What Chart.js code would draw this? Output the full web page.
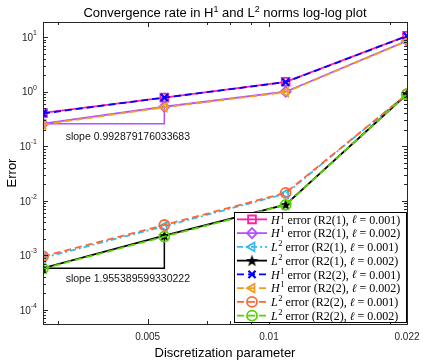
<!DOCTYPE html>
<html>
<head>
<meta charset="utf-8">
<script src="https://cdn.jsdelivr.net/npm/chart.js@4.4.1/dist/chart.umd.min.js"></script>
<style>
  html, body { margin: 0; padding: 0; background: #fff; }
  #wrap { width: 423px; height: 360px; }
</style>
</head>
<body>
<div id="wrap"><canvas id="errChart" width="423" height="360"></canvas></div>
<script>
// discretization parameter (h) for the four refinements
const hValues = [0.00275, 0.0055, 0.011, 0.022];

// errors
const h1R21L001 = [0.41, 0.78, 1.52, 10.6];
const h1R21L002 = [0.26, 0.53, 1.0, 8.6];
const l2R21L001 = [0.00090, 0.0034, 0.0135, 0.90];
const l2R21L002 = [0.00058, 0.0023, 0.0085, 0.90];
const h1R22L001 = [0.40, 0.78, 1.50, 10.5];
const h1R22L002 = [0.25, 0.52, 0.98, 8.5];
const l2R22L001 = [0.00096, 0.0036, 0.0140, 0.90];
const l2R22L002 = [0.00057, 0.0022, 0.0084, 0.90];

// slope triangles (corner points) and their labels
const slopeH1X = [0.00275, 0.0055, 0.0055];
const slopeH1Y = [0.26, 0.26, 0.53];
const slopeL2X = [0.00275, 0.0055, 0.0055];
const slopeL2Y = [0.00058, 0.00058, 0.0023];
const slopeH1Text = 'slope 0.992879176033683';
const slopeL2Text = 'slope 1.955389599330222';
const slopeH1Anchor = [0.00313, 0.146];
const slopeL2Anchor = [0.00313, 0.00036];

// axis ticks
const xTickValues = [0.005, 0.01, 0.022];
const xTickLabels = ['0.005', '0.01', '0.022'];
const xMinorTicks = [0.003, 0.007, 0.008, 0.009, 0.02];
const yTickValues = [1e-4, 1e-3, 1e-2, 1e-1, 1, 10];
const yTickExponents = ['-4', '-3', '-2', '-1', '0', '1'];

// legend text parts: [norm letter, power, rest, ell value]
const legendParts = [
  ['H', '1', ' error (R2(1), ', ' = 0.001)'],
  ['H', '1', ' error (R2(1), ', ' = 0.002)'],
  ['L', '2', ' error (R2(1), ', ' = 0.001)'],
  ['L', '2', ' error (R2(1), ', ' = 0.002)'],
  ['H', '1', ' error (R2(2), ', ' = 0.001)'],
  ['H', '1', ' error (R2(2), ', ' = 0.002)'],
  ['L', '2', ' error (R2(2), ', ' = 0.001)'],
  ['L', '2', ' error (R2(2), ', ' = 0.002)']
];

function pts(xs, ys) {
  return xs.map((x, i) => ({ x: x, y: ys[i] }));
}

// filled pentagram marker
function makeStar(size, color) {
  const c = document.createElement('canvas');
  c.width = size; c.height = size;
  const g = c.getContext('2d');
  const cx = size / 2, cy = size / 2 + 0.5, ro = size / 2, ri = ro * 0.4;
  g.beginPath();
  for (let k = 0; k < 10; k++) {
    const r = k % 2 ? ri : ro;
    const a = -Math.PI / 2 + k * Math.PI / 5;
    g.lineTo(cx + r * Math.cos(a), cy + r * Math.sin(a));
  }
  g.closePath();
  g.fillStyle = color;
  g.fill();
  return c;
}
const starMarker = makeStar(13, '#000');

const DASH = [7, 4];
const DASHDOT = [6, 3, 2, 3];

function series(data, color, dash, style, rot, radius, extra) {
  return Object.assign({
    data: data,
    borderColor: color,
    backgroundColor: color,
    borderWidth: 1.8,
    borderDash: dash,
    pointStyle: style,
    rotation: rot,
    pointRadius: radius,
    pointBorderWidth: 1.8,
    pointBorderColor: color,
    pointBackgroundColor: 'rgba(0,0,0,0)',
    tension: 0
  }, extra || {});
}

const datasets = [
  series(pts(hValues, h1R21L001), '#ff1fa6', [], 'rect', 0, 5.5),
  series(pts(hValues, h1R21L002), '#b450ff', [], 'rectRot', 0, 5),
  series(pts(hValues, l2R21L001), '#33bbee', DASHDOT, 'triangle', -90, 5),
  series(pts(hValues, l2R21L002), '#000000', [], starMarker, 0, 5),
  series(pts(hValues, h1R22L001), '#0000ff', DASH, 'crossRot', 0, 5, { pointBorderWidth: 2.2 }),
  series(pts(hValues, h1R22L002), '#f0a020', DASH, 'triangle', -90, 5),
  series(pts(hValues, l2R22L001), '#ff6633', DASH, 'circle', 0, 5),
  series(pts(hValues, l2R22L002), '#55d400', DASH, 'circle', 0, 5)
];
// later series drawn on top, as in the original figure
datasets.forEach((d, i) => { d.order = 20 - i; });

datasets.push({
  data: pts(slopeH1X, slopeH1Y), borderColor: '#b450ff', borderWidth: 1.5,
  pointRadius: 0, order: 30, tension: 0
});
datasets.push({
  data: pts(slopeL2X, slopeL2Y), borderColor: '#000000', borderWidth: 1.5,
  pointRadius: 0, order: 30, tension: 0
});

const AXIS_COLOR = '#262626';
const SANS = '"Liberation Sans", Arial, sans-serif';
const SERIF = '"Liberation Serif", "DejaVu Serif", serif';

// inward ticks, box, tick labels, titles, slope labels and legend
const decorPlugin = {
  id: 'decor',
  afterDraw(chart) {
    const ctx = chart.ctx;
    const a = chart.chartArea;
    const xs = chart.scales.x, ys = chart.scales.y;
    ctx.save();
    ctx.strokeStyle = AXIS_COLOR;
    ctx.lineWidth = 1;

    // y ticks (major + minor), left and right
    for (let e = -5; e <= 1; e++) {
      for (let m = 1; m <= 9; m++) {
        const v = m * Math.pow(10, e);
        if (v < ys.min || v > ys.max) continue;
        const py = Math.round(ys.getPixelForValue(v)) + 0.5;
        const len = m === 1 ? 5 : 3;
        ctx.beginPath();
        ctx.moveTo(a.left, py); ctx.lineTo(a.left + len, py);
        ctx.moveTo(a.right, py); ctx.lineTo(a.right - len, py);
        ctx.stroke();
      }
    }
    // x ticks, bottom and top
    const xt = xTickValues.map(v => [v, 5]).concat(xMinorTicks.map(v => [v, 3]));
    xt.forEach(([v, len]) => {
      const px = Math.round(xs.getPixelForValue(v)) + 0.5;
      ctx.beginPath();
      ctx.moveTo(px, a.bottom); ctx.lineTo(px, a.bottom - len);
      ctx.moveTo(px, a.top); ctx.lineTo(px, a.top + len);
      ctx.stroke();
    });

    // axes box
    ctx.strokeRect(Math.round(a.left) + 0.5, Math.round(a.top) + 0.5,
      Math.round(a.right - a.left), Math.round(a.bottom - a.top));

    // y tick labels 10^e
    ctx.fillStyle = AXIS_COLOR;
    ctx.textBaseline = 'middle';
    yTickValues.forEach((v, i) => {
      const py = ys.getPixelForValue(v);
      const ex = yTickExponents[i];
      ctx.font = '7px ' + SANS;
      const ew = ctx.measureText(ex).width;
      ctx.textAlign = 'left';
      const right = a.left - 6;
      ctx.fillText(ex, right - ew, py - 4);
      ctx.font = '10px ' + SANS;
      ctx.textAlign = 'right';
      ctx.fillText('10', right - ew, py + 1);
    });

    // x tick labels
    ctx.font = '10px ' + SANS;
    ctx.textAlign = 'center';
    xTickValues.forEach((v, i) => {
      ctx.fillText(xTickLabels[i], xs.getPixelForValue(v), a.bottom + 13);
    });

    // axis titles
    ctx.fillStyle = '#000';
    ctx.font = '13px ' + SANS;
    ctx.fillText('Discretization parameter', (a.left + a.right) / 2, a.bottom + 29);
    ctx.save();
    ctx.translate(12, (a.top + a.bottom) / 2);
    ctx.rotate(-Math.PI / 2);
    ctx.fillText('Error', 0, 0);
    ctx.restore();

    // title
    ctx.textBaseline = 'alphabetic';
    const tParts = [['Convergence rate in H', 0], ['1', 1], [' and L', 0], ['2', 1], [' norms log-log plot', 0]];
    let tw = 0;
    tParts.forEach(([s, sup]) => {
      ctx.font = (sup ? '9px ' : '13px ') + SANS;
      tw += ctx.measureText(s).width;
    });
    let tx0 = (a.left + a.right) / 2 - tw / 2;
    ctx.textAlign = 'left';
    tParts.forEach(([s, sup]) => {
      ctx.font = (sup ? '9px ' : '13px ') + SANS;
      ctx.fillText(s, tx0, sup ? 12 : 17);
      tx0 += ctx.measureText(s).width;
    });

    // slope labels
    ctx.font = '10.5px ' + SANS;
    ctx.textAlign = 'left';
    ctx.textBaseline = 'middle';
    ctx.fillStyle = '#111';
    ctx.fillText(slopeH1Text, xs.getPixelForValue(slopeH1Anchor[0]), ys.getPixelForValue(slopeH1Anchor[1]));
    ctx.fillText(slopeL2Text, xs.getPixelForValue(slopeL2Anchor[0]), ys.getPixelForValue(slopeL2Anchor[1]));

    // legend box
    const lx = 234, ly = 212, lw = 172, lh = 110;
    ctx.fillStyle = '#fff';
    ctx.fillRect(lx, ly, lw, lh);
    ctx.strokeStyle = '#000';
    ctx.lineWidth = 1;
    ctx.strokeRect(lx + 0.5, ly + 0.5, lw, lh);

    const rowH = lh / 8;
    for (let i = 0; i < 8; i++) {
      const ds = chart.data.datasets[i];
      const cy = ly + rowH * (i + 0.5) + 0.5;
      ctx.save();
      ctx.strokeStyle = ds.borderColor;
      ctx.lineWidth = ds.borderWidth;
      ctx.setLineDash(ds.borderDash);
      ctx.beginPath();
      ctx.moveTo(lx + 3, cy); ctx.lineTo(lx + 33, cy);
      ctx.stroke();
      ctx.setLineDash([]);
      ctx.lineWidth = ds.pointBorderWidth;
      ctx.fillStyle = 'rgba(0,0,0,0)';
      Chart.helpers.drawPoint(ctx, {
        pointStyle: ds.pointStyle, rotation: ds.rotation,
        radius: ds.pointRadius, borderWidth: ds.pointBorderWidth
      }, lx + 18, cy);
      ctx.restore();

      // label with math parts
      const p = legendParts[i];
      let tx = lx + 37;
      ctx.fillStyle = '#000';
      ctx.textAlign = 'left';
      ctx.textBaseline = 'middle';
      ctx.font = 'italic 12px ' + SERIF;
      ctx.fillText(p[0], tx, cy + 1); tx += ctx.measureText(p[0]).width + 0.5;
      ctx.font = '8.5px ' + SERIF;
      ctx.fillText(p[1], tx, cy - 3); tx += ctx.measureText(p[1]).width;
      ctx.font = '12px ' + SERIF;
      ctx.fillText(p[2], tx, cy + 1); tx += ctx.measureText(p[2]).width;
      ctx.font = 'italic 11.5px "DejaVu Serif", serif';
      ctx.fillText('\u2113', tx, cy + 1); tx += ctx.measureText('\u2113').width;
      ctx.font = '12px ' + SERIF;
      ctx.fillText(p[3], tx, cy + 1);
    }
    ctx.restore();
  }
};

const chart = new Chart(document.getElementById('errChart').getContext('2d'), {
  type: 'line',
  data: { datasets: datasets },
  options: {
    responsive: false,
    animation: false,
    layout: { padding: { top: 22, right: 16, left: 43, bottom: 36 } },
    plugins: {
      legend: { display: false },
      tooltip: { enabled: false },
      title: { display: false }
    },
    scales: {
      x: { type: 'logarithmic', min: 0.00275, max: 0.022, display: false },
      y: { type: 'logarithmic', min: 5.5e-5, max: 19, display: false }
    }
  },
  plugins: [decorPlugin]
});
</script>
</body>
</html>
